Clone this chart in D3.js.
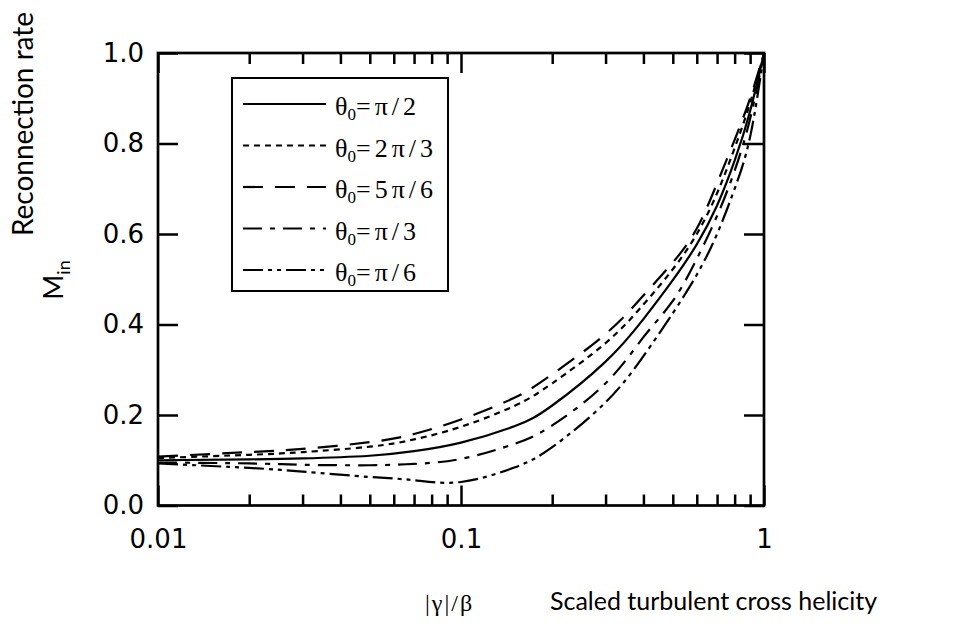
<!DOCTYPE html>
<html lang="en">
	<head>
		<meta charset="utf-8">
		<title>Reconnection rate vs scaled turbulent cross helicity</title>
		<script type="text/javascript" src="https://d3js.org/d3.v7.min.js"></script>
		<style type="text/css">
			body {
				margin: 0;
				background-color: white;
			}
			svg {
				display: block;
			}
			.tick text {
				font-family: "DejaVu Sans", sans-serif;
				font-size: 26px;
				fill: black;
			}
			.tick line {
				stroke: black;
				stroke-width: 2.5;
			}
		</style>
	</head>
	<body>
		<div id="chart"></div>
		<script type="text/javascript">

			//Data: |gamma|/beta against M_in for five theta_0
			var helicity = [0.01, 0.02, 0.03, 0.05, 0.07, 0.1, 0.15, 0.2, 0.3, 0.4, 0.5, 0.6, 0.7, 0.8, 0.9, 1];

			var rateHalfPi     = [0.100, 0.102, 0.104, 0.110, 0.120, 0.139, 0.175, 0.221, 0.318, 0.412, 0.498, 0.577, 0.663, 0.762, 0.872, 1.0];
			var rateTwoThirdPi = [0.105, 0.112, 0.118, 0.130, 0.146, 0.174, 0.220, 0.270, 0.359, 0.444, 0.522, 0.600, 0.690, 0.790, 0.890, 1.0];
			var rateFiveSixPi  = [0.108, 0.118, 0.125, 0.140, 0.158, 0.190, 0.238, 0.290, 0.379, 0.464, 0.537, 0.612, 0.712, 0.808, 0.900, 1.0];
			var rateThirdPi    = [0.095, 0.093, 0.090, 0.089, 0.092, 0.103, 0.136, 0.177, 0.270, 0.372, 0.452, 0.545, 0.640, 0.740, 0.855, 1.0];
			var rateSixthPi    = [0.093, 0.083, 0.075, 0.063, 0.056, 0.052, 0.084, 0.129, 0.228, 0.330, 0.425, 0.510, 0.600, 0.700, 0.815, 1.0];

			var thetaLabels = ["\u03c0/2", "2\u03c0/3", "5\u03c0/6", "\u03c0/3", "\u03c0/6"];
			var seriesValues = [rateHalfPi, rateTwoThirdPi, rateFiveSixPi, rateThirdPi, rateSixthPi];
			var dashPatterns = ["none", "6,5", "20,12", "19,8,5,8", "20,5,4,5,4,5"];

			var xMajorTicks = [0.01, 0.1, 1];
			var xTickLabels = ["0.01", "0.1", "1"];
			var xMinorTicks = [0.02, 0.03, 0.04, 0.05, 0.06, 0.07, 0.08, 0.09, 0.2, 0.3, 0.4, 0.5, 0.6, 0.7, 0.8, 0.9];
			var yTicks = [0, 0.2, 0.4, 0.6, 0.8, 1.0];

			//Size and plot frame
			var w = 954;
			var h = 626;
			var plot = {left: 158, right: 764, top: 53, bottom: 505.5};

			var xScale = d3.scaleLog()
							.domain([0.01, 1])
							.range([plot.left, plot.right]);

			var yScale = d3.scaleLinear()
							.domain([0, 1])
							.range([plot.bottom, plot.top]);

			var svg = d3.select("#chart")
						.append("svg")
						.attr("width", w)
						.attr("height", h);

			//Axes, all ticks pointing inward
			var xAxisMajor = d3.axisBottom(xScale)
								.tickValues(xMajorTicks)
								.tickFormat(function(d, i) { return xTickLabels[i]; })
								.tickSize(-20)
								.tickPadding(24);
			var xAxisMinor = d3.axisBottom(xScale)
								.tickValues(xMinorTicks)
								.tickFormat("")
								.tickSize(-11);
			var xTopMajor = d3.axisTop(xScale).tickValues(xMajorTicks).tickFormat("").tickSize(-20);
			var xTopMinor = d3.axisTop(xScale).tickValues(xMinorTicks).tickFormat("").tickSize(-11);

			var yAxis = d3.axisLeft(yScale)
						  .tickValues(yTicks)
						  .tickFormat(d3.format(".1f"))
						  .tickSize(-20)
						  .tickPadding(14);
			var yRight = d3.axisRight(yScale).tickValues(yTicks).tickFormat("").tickSize(-20);

			svg.append("g").attr("transform", "translate(0," + plot.bottom + ")").call(xAxisMajor);
			svg.append("g").attr("transform", "translate(0," + plot.bottom + ")").call(xAxisMinor);
			svg.append("g").attr("transform", "translate(0," + plot.top + ")").call(xTopMajor);
			svg.append("g").attr("transform", "translate(0," + plot.top + ")").call(xTopMinor);
			svg.append("g").attr("transform", "translate(" + plot.left + ",0)").call(yAxis);
			svg.append("g").attr("transform", "translate(" + plot.right + ",0)").call(yRight);

			svg.selectAll(".domain").remove();

			//Frame
			svg.append("rect")
				.attr("x", plot.left)
				.attr("y", plot.top)
				.attr("width", plot.right - plot.left)
				.attr("height", plot.bottom - plot.top)
				.attr("fill", "none")
				.attr("stroke", "black")
				.attr("stroke-width", 2.7);

			//Curves
			var line = d3.line()
				.curve(d3.curveNatural)
				.x(function(d) { return xScale(d[0]); })
				.y(function(d) { return yScale(d[1]); });

			svg.selectAll("path.curve")
				.data(seriesValues)
				.enter()
				.append("path")
				.attr("class", "curve")
				.attr("d", function(vals) {
					return line(vals.map(function(v, i) { return [helicity[i], v]; }));
				})
				.attr("fill", "none")
				.attr("stroke", "black")
				.attr("stroke-width", 2.2)
				.attr("stroke-dasharray", function(d, i) { return dashPatterns[i]; });

			//Legend
			var legend = svg.append("g").attr("class", "legend");

			legend.append("rect")
				.attr("x", 232)
				.attr("y", 78)
				.attr("width", 216)
				.attr("height", 213)
				.attr("fill", "white")
				.attr("stroke", "black")
				.attr("stroke-width", 2);

			var rows = legend.selectAll("g.row")
				.data(thetaLabels)
				.enter()
				.append("g")
				.attr("class", "row")
				.attr("transform", function(d, i) { return "translate(0," + (104 + i * 41.5) + ")"; });

			rows.append("line")
				.attr("x1", 243)
				.attr("x2", 326)
				.attr("stroke", "black")
				.attr("stroke-width", 2.2)
				.attr("stroke-dasharray", function(d, i) { return dashPatterns[i]; });

			var rowText = rows.append("text")
				.attr("x", 335)
				.attr("y", 11)
				.attr("font-family", "'Liberation Serif', serif")
				.attr("font-size", "26px");
			rowText.append("tspan").text("\u03b8");
			rowText.append("tspan").attr("font-size", "17px").attr("dy", 5).text("0");
			rowText.append("tspan").attr("dy", -5).attr("letter-spacing", "4px").text(function(d) { return "=" + d; });

			//Axis titles
			svg.append("text")
				.attr("transform", "translate(33,124) rotate(-90)")
				.attr("text-anchor", "middle")
				.attr("font-family", "Lato, sans-serif")
				.attr("font-size", "28px")
				.text("Reconnection rate");

			var mLabel = svg.append("text")
				.attr("transform", "translate(63,280) rotate(-90)")
				.attr("text-anchor", "middle")
				.attr("font-family", "Lato, sans-serif")
				.attr("font-size", "27px");
			mLabel.append("tspan").text("M");
			mLabel.append("tspan").attr("font-size", "18px").attr("dy", 7).text("in");

			svg.append("text")
				.attr("x", 425)
				.attr("y", 611)
				.attr("font-family", "'Liberation Serif', serif")
				.attr("font-size", "24px")
				.attr("letter-spacing", "2px")
				.text("|\u03b3|/\u03b2");

			svg.append("text")
				.attr("x", 550)
				.attr("y", 610)
				.attr("font-family", "Lato, sans-serif")
				.attr("font-size", "25px")
				.text("Scaled turbulent cross helicity");
		</script>
	</body>
</html>
